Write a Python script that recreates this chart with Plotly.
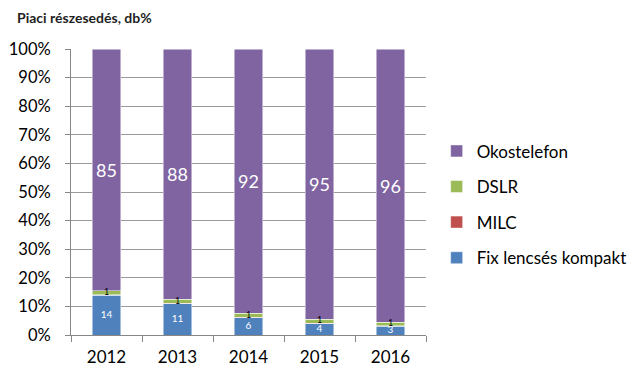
import plotly.graph_objects as go

years = ["2012", "2013", "2014", "2015", "2016"]
fix = [14, 11, 6, 4, 3]
milc = [0.2, 0.2, 0.2, 0.2, 0.2]
dslr = [1.3, 1.3, 1.3, 1.3, 1.3]
okos = [85, 88, 92, 95, 96]
fix_lbl = ["14", "11", "6", "4", "3"]
dslr_lbl = ["1", "1", "1", "1", "1"]
okos_lbl = ["85", "88", "92", "95", "96"]

FONT = "Lato, Open Sans, sans-serif"
totals = [a + b + c + d for a, b, c, d in zip(fix, milc, dslr, okos)]

fig = go.Figure()
common = dict(marker_line_width=0.6, marker_line_color="rgba(255,255,255,0.8)")
fig.add_bar(x=years, y=fix, name="Fix lencsés kompakt", marker_color="#4F81BD",
            legendgroup="d", legendrank=4, **common)
fig.add_bar(x=years, y=milc, name="MILC", marker_color="#C0504D",
            legendgroup="c", legendrank=3, **common)
fig.add_bar(x=years, y=dslr, name="DSLR", marker_color="#9BBB59",
            legendgroup="b", legendrank=2, **common)
fig.add_bar(x=years, y=okos, name="Okostelefon", marker_color="#8064A2",
            legendgroup="a", legendrank=1, text=okos_lbl, textposition="inside",
            insidetextanchor="middle", textangle=0,
            textfont=dict(color="white", size=18, family=FONT), **common)

# small labels (positions in the normalised percent scale)
fix_y = [100 * f / 2 / t for f, t in zip(fix, totals)]
fig.add_scatter(x=years, y=fix_y, mode="text", text=fix_lbl,
                textfont=dict(color="white", size=10, family=FONT),
                showlegend=False, hoverinfo="skip")
dslr_y = [100 * (f + m + d / 2) / t for f, m, d, t in zip(fix, milc, dslr, totals)]
fig.add_scatter(x=years, y=dslr_y, mode="text", text=dslr_lbl,
                textfont=dict(color="black", size=9, family=FONT),
                showlegend=False, hoverinfo="skip")

fig.update_layout(
    barmode="stack", barnorm="percent", bargap=0.6,
    width=636, height=369,
    margin=dict(l=63, r=209, t=41, b=42),
    plot_bgcolor="white", paper_bgcolor="white",
    font=dict(family=FONT, color="#000000"),
    showlegend=True,
    legend=dict(x=1.03, y=0.705, xanchor="left", yanchor="top",
                traceorder="grouped", tracegroupgap=10.5,
                font=dict(size=17, family=FONT), itemwidth=30),
)
fig.add_annotation(text="<b>Piaci részesedés, db%</b>", xref="paper", yref="paper",
                   x=-0.157, y=1.11, xanchor="left", yanchor="middle", showarrow=False,
                   font=dict(size=14, family=FONT, color="#1F1F1F"))

fig.update_yaxes(range=[0, 100], tickvals=list(range(0, 101, 10)),
                 ticktext=[f"{v}%" for v in range(0, 101, 10)],
                 showgrid=True, gridcolor="#9A9A9A", gridwidth=1,
                 zeroline=False, showline=True, linecolor="#868686",
                 ticks="outside", ticklen=5, tickcolor="#868686",
                 ticklabelstandoff=11, automargin=False,
                 tickfont=dict(size=16.5, family=FONT))
fig.update_xaxes(showgrid=False, showline=True, linecolor="#868686",
                 ticks="outside", tickson="boundaries", ticklen=6, tickcolor="#868686",
                 ticklabelstandoff=7, automargin=False,
                 tickfont=dict(size=17, family=FONT))

fig.write_html("out.html")
